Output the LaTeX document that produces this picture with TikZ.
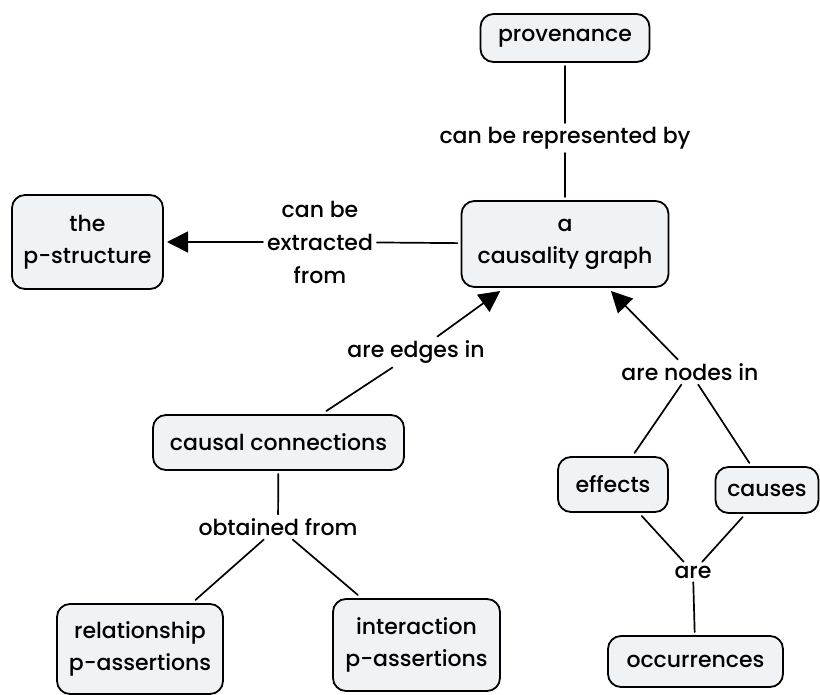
\documentclass[tikz,border=0pt]{standalone}
\usepackage{fontspec}
\setmainfont{Poppins}[UprightFont={* Medium}]
\usetikzlibrary{arrows.meta}
\definecolor{boxfill}{HTML}{EFF3F6}
\tikzset{
  concept/.style={draw=black, line width=1.8pt, fill=boxfill, rounded corners=13pt,
    align=center, inner sep=0pt, outer sep=4pt, font=\fontsize{22}{32}\selectfont},
  phrase/.style={align=center, inner sep=1pt, outer sep=3pt, font=\fontsize{22}{33}\selectfont},
  link/.style={line width=1.7pt, line cap=round},
  arrowlink/.style={link, -{Triangle[length=21pt,width=21pt]}},
}
\begin{document}
\begin{tikzpicture}[x=1pt,y=-1pt]
\useasboundingbox (0,0) rectangle (820,695);

% concepts
\node[concept, minimum width=169pt, minimum height=48pt] (prov) at (565,38) {provenance};
\node[concept, minimum width=151pt, minimum height=94pt] (pstruct) at (87.5,242) {the\\p-structure};
\node[concept, minimum width=207pt, minimum height=86pt] (graph) at (565,244) {a\\causality graph};
\node[concept, minimum width=251pt, minimum height=55pt] (conn) at (278.5,442.5) {causal connections};
\node[concept, minimum width=110pt, minimum height=55pt] (effects) at (613,484.5) {effects};
\node[concept, minimum width=103pt, minimum height=46pt] (causes) at (767,490) {causes};
\node[concept, minimum width=166pt, minimum height=90pt] (relass) at (140,649) {relationship\\p-assertions};
\node[concept, minimum width=167pt, minimum height=92pt] (intass) at (416.5,645) {interaction\\p-assertions};
\node[concept, minimum width=175pt, minimum height=51pt] (occ) at (695.5,661.5) {occurrences};

% linking phrases
\node[phrase] (repr) at (565,138) {can be represented by};
\node[phrase] (extr) at (320,242) {can be\\extracted\\from};
\node[phrase] (edges) at (416,352) {are edges in};
\node[phrase] (nodesin) at (690,372) {are nodes in};
\node[phrase] (obt) at (278,527) {obtained from};
\node[phrase] (are) at (693,572) {are};

% connections
\draw[link] (prov) -- (repr);
\draw[link] (repr) -- (graph);
\draw[link] (graph) -- (extr);
\draw[arrowlink] (extr) -- (pstruct);
\draw[link] (conn) -- (edges);
\draw[arrowlink] (edges) -- (graph);
\draw[arrowlink] (nodesin) -- (graph);
\draw[link] (effects) -- (nodesin);
\draw[link] (causes) -- (nodesin);
\draw[link] (conn) -- (obt);
\draw[link] (obt) -- (relass);
\draw[link] (obt) -- (intass);
\draw[link] (effects) -- (are);
\draw[link] (causes) -- (are);
\draw[link] (are) -- (occ);
\end{tikzpicture}
\end{document}
